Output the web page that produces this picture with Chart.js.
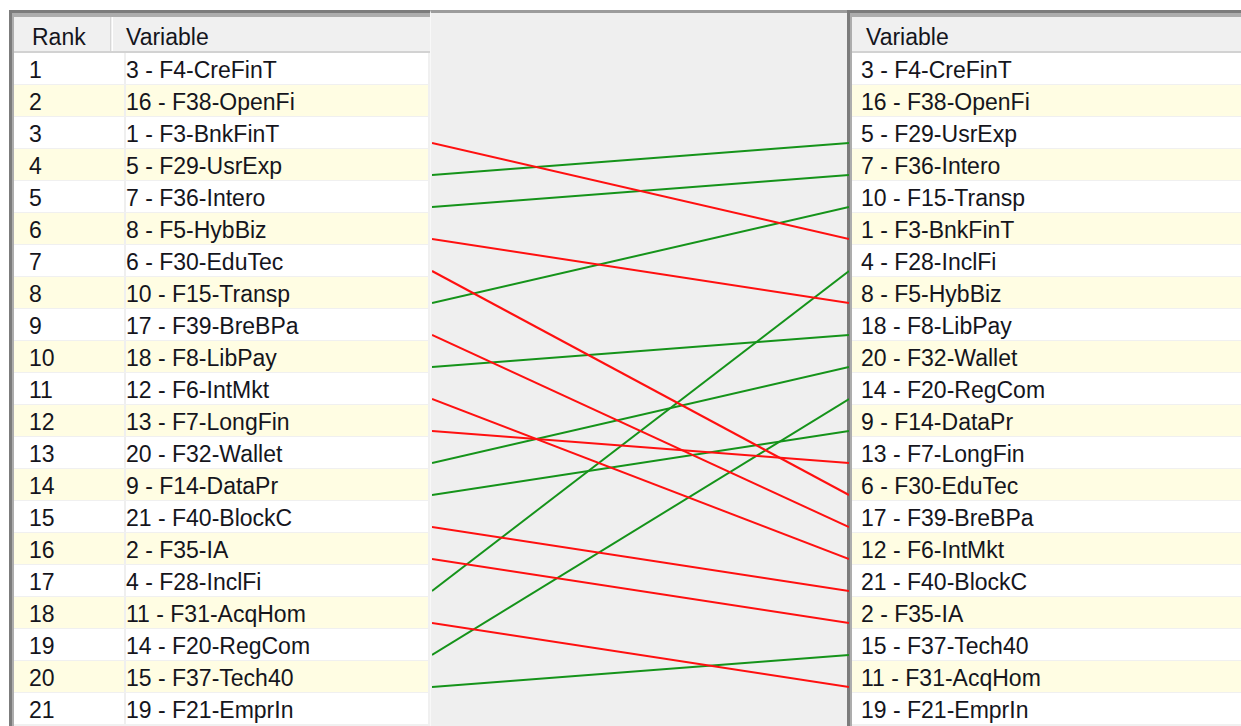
<!DOCTYPE html>
<html>
<head>
<meta charset="utf-8">
<script src="https://cdn.jsdelivr.net/npm/chart.js@4.4.0/dist/chart.umd.min.js"></script>
<style>
  body { margin: 0; background: #ffffff; width: 1241px; height: 726px; overflow: hidden; position: relative;
         font-family: "Liberation Sans", Arial, sans-serif; font-size: 23px; color: #15151c; }
  .panel { position: absolute; top: 10px; height: 716px; overflow: hidden; background: #f0f0f0;
           border-top: 3px solid #7c7c7c; border-left: 3px solid #7c7c7c; box-sizing: border-box; }
  .inner { position: absolute; top: 0; left: 0; right: 0; bottom: 0; border-top: 4px solid #adadad; border-left: 2px solid #adadad; }
  .hdr { position: absolute; top: 0; left: 0; right: 0; height: 34px; background: #f0f0f0; border-bottom: 2px solid #d2d2d2; }
  .hcell { position: absolute; top: 0; height: 34px; padding-top: 7px; line-height: 27px; box-sizing: border-box; white-space: nowrap; }
  .row { position: absolute; left: 0; right: 0; height: 32px; box-sizing: border-box; border-bottom: 1px solid #f0f0f0; }
  .cell { position: absolute; top: 0; height: 27px; padding-top: 4px; line-height: 27px; white-space: nowrap; }
  .yel { background: #fffde3; }
  .wht { background: #ffffff; }
  #middle { position: absolute; left: 430px; top: 10px; width: 418px; height: 716px; background: #efefef;
            border-top: 3px solid #9c9c9c; border-left: 1px solid #f8f8f8; box-sizing: border-box; }
  #lines { position: absolute; left: 432px; top: 53px; }
</style>
</head>
<body>
<div class="panel" id="leftPanel" style="left:9px; width:422px;"><div class="inner" id="leftInner"></div></div>
<div id="middle"></div>
<div class="panel" id="rightPanel" style="left:847px; width:394px;"><div class="inner" id="rightInner"></div></div>
<canvas id="lines" width="417" height="672"></canvas>

<script>
// ranking inicial (tabla izquierda)
var rankLabels = ['1', '2', '3', '4', '5', '6', '7', '8', '9', '10', '11', '12', '13', '14', '15', '16', '17', '18', '19', '20', '21'];
var leftVars = ['3 - F4-CreFinT', '16 - F38-OpenFi', '1 - F3-BnkFinT', '5 - F29-UsrExp', '7 - F36-Intero', '8 - F5-HybBiz',
  '6 - F30-EduTec', '10 - F15-Transp', '17 - F39-BreBPa', '18 - F8-LibPay', '12 - F6-IntMkt', '13 - F7-LongFin',
  '20 - F32-Wallet', '9 - F14-DataPr', '21 - F40-BlockC', '2 - F35-IA', '4 - F28-InclFi', '11 - F31-AcqHom',
  '14 - F20-RegCom', '15 - F37-Tech40', '19 - F21-EmprIn'];
// ranking final (tabla derecha)
var rightVars = ['3 - F4-CreFinT', '16 - F38-OpenFi', '5 - F29-UsrExp', '7 - F36-Intero', '10 - F15-Transp', '1 - F3-BnkFinT',
  '4 - F28-InclFi', '8 - F5-HybBiz', '18 - F8-LibPay', '20 - F32-Wallet', '14 - F20-RegCom', '9 - F14-DataPr',
  '13 - F7-LongFin', '6 - F30-EduTec', '17 - F39-BreBPa', '12 - F6-IntMkt', '21 - F40-BlockC', '2 - F35-IA',
  '15 - F37-Tech40', '11 - F31-AcqHom', '19 - F21-EmprIn'];

var upColor = '#15931a';
var downColor = '#ff1010';

// Tabla izquierda
var html = '<div class="hdr"><div class="hcell" style="left:0;width:97px;padding-left:18px;border-right:1px solid #d8d8d8;box-sizing:border-box;">Rank</div>' +
  '<div class="hcell" style="left:98px;padding-left:13px;border-left:1px solid #ffffff;">Variable</div></div>';
for (var i = 0; i < leftVars.length; i++) {
  var cls = (i % 2 == 0) ? 'wht' : 'yel';
  html += '<div class="row ' + cls + '" style="top:' + (36 + i * 32) + 'px;width:414px;">' +
    '<div class="cell" style="left:0;width:95px;padding-left:15px;border-right:2px solid #efefef;">' + rankLabels[i] + '</div>' +
    '<div class="cell" style="left:112px;">' + leftVars[i] + '</div></div>';
}
document.getElementById('leftInner').innerHTML = html;

// Tabla derecha
html = '<div class="hdr"><div class="hcell" style="left:0;padding-left:14px;">Variable</div></div>';
for (var j = 0; j < rightVars.length; j++) {
  var cls2 = (j % 2 == 0) ? 'wht' : 'yel';
  html += '<div class="row ' + cls2 + '" style="top:' + (36 + j * 32) + 'px;">' +
    '<div class="cell" style="left:9px;">' + rightVars[j] + '</div></div>';
}
document.getElementById('rightInner').innerHTML = html;

// Lineas entre los dos rankings
var datasets = [];
for (var k = 0; k < leftVars.length; k++) {
  var from = k + 1;
  var to = rightVars.indexOf(leftVars[k]) + 1;
  if (from == to) continue;
  datasets.push({
    label: leftVars[k],
    data: [{ x: 0, y: from }, { x: 1, y: to }],
    borderColor: (to < from) ? upColor : downColor,
    borderWidth: 2,
    pointRadius: 0,
    fill: false
  });
}

new Chart(document.getElementById('lines'), {
  type: 'line',
  data: { datasets: datasets },
  options: {
    responsive: false,
    animation: false,
    clip: false,
    layout: { padding: 0 },
    plugins: { legend: { display: false }, tooltip: { enabled: false } },
    scales: {
      x: { type: 'linear', min: 0, max: 1, display: false },
      y: { type: 'linear', reverse: true, min: 0.1875, max: 21.1875, display: false }
    }
  }
});
</script>
</body>
</html>
